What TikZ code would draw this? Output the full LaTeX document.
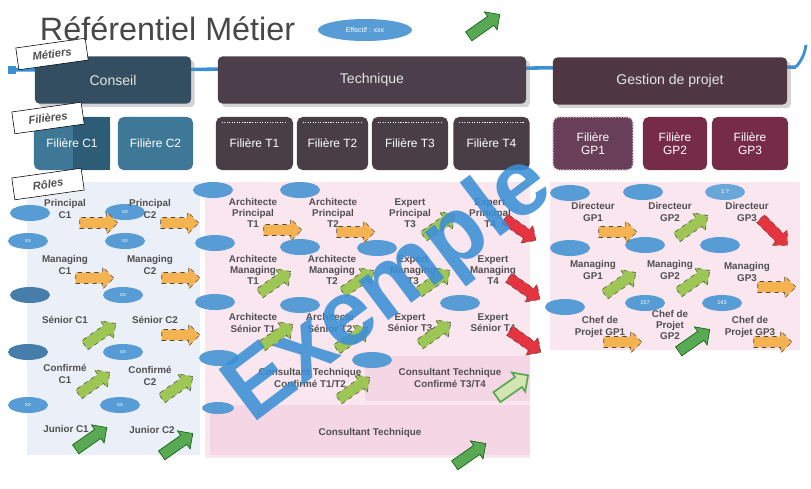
\documentclass[tikz,border=0pt]{standalone}
\usepackage{fontspec}
\setmainfont{Liberation Sans}
\usepackage{tikz}
\usetikzlibrary{positioning, shapes.geometric, shapes.arrows, shadows}

\definecolor{conseil}{RGB}{50,78,96}
\definecolor{techn}{RGB}{76,62,74}
\definecolor{gestion}{RGB}{80,56,66}
\definecolor{filc}{RGB}{62,120,150}
\definecolor{filcf}{RGB}{44,92,118}
\definecolor{filt}{RGB}{74,62,70}
\definecolor{filgp}{RGB}{118,44,70}
\definecolor{filgpa}{RGB}{104,62,88}
\definecolor{effbleu}{RGB}{88,156,214}
\definecolor{ligne}{RGB}{59,143,214}
\definecolor{orangeflec}{RGB}{245,178,80}
\definecolor{vertflec}{RGB}{158,198,84}
\definecolor{vertfonce}{RGB}{88,168,84}
\definecolor{rougeflec}{RGB}{228,52,64}
\definecolor{texte}{RGB}{80,80,80}
\definecolor{fondc}{RGB}{234,239,248}
\definecolor{fondt}{RGB}{249,230,238}
\definecolor{bande}{RGB}{245,214,228}

\begin{document}
\begin{tikzpicture}[x=0.025cm,y=-0.025cm,
  hdr/.style = {rounded corners=3pt, minimum height=1.175cm, text=white!80!gray, font=\fontsize{10}{12}\selectfont, drop shadow={opacity=0.35}},
  fil/.style = {rounded corners=4pt, minimum height=1.325cm, text=white, align=center, font=\fontsize{8.5}{9}\selectfont},
  filt/.style = {fil, fill=filt, path picture={\draw[white, densely dotted, line width=0.8pt] ([xshift=4pt,yshift=-4pt]path picture bounding box.north west) -- ([xshift=-4pt,yshift=-4pt]path picture bounding box.north east);}},
  tag/.style = {draw, fill=white, font=\fontsize{8}{9}\selectfont\bfseries\itshape, text=texte, minimum width=1.75cm, minimum height=0.55cm, rotate=8},
  role/.style = {align=center, font=\fontsize{7}{8}\selectfont\bfseries, text=texte, inner sep=1pt},
  eff/.style = {ellipse, fill=effbleu, minimum width=1cm, minimum height=0.4cm, inner sep=0pt, text=white, font=\fontsize{4}{4}\selectfont},
  fl/.style = {single arrow, draw=gray!60!black, dashed, line width=0.4pt, minimum height=0.95cm, inner sep=0.13cm, single arrow head extend=0.14cm},
  orng/.style = {fl, fill=orangeflec},
  grn/.style = {fl, fill=vertflec, rotate=35},
  dgrn/.style = {fl, fill=vertfonce, draw=green!35!black, solid, rotate=35},
  gout/.style = {fl, fill=vertflec!45, draw=vertfonce, solid, line width=1.2pt, rotate=35},
  rd/.style = {fl, fill=rougeflec, rotate=-35}]
\useasboundingbox (0,0) rectangle (811,488);

% fonds
\fill[fondc] (27,182) rectangle (200,455);
\fill[fondt] (205,182) rectangle (530,458);
\fill[bande] (365,356) rectangle (530,401);
\fill[bande] (210,405) rectangle (530,455);
\fill[fondt] (550,182) rectangle (800,350);

% ligne des metiers
\coordinate (lg) at (12,70);
\coordinate (ld) at (796,67);
\coordinate (lh) at (806,45);
\draw[ligne, line width=2.5pt] (lg) -- (ld);
\draw[ligne, line width=2pt] (ld) to[bend right=15] (lh);
\fill[ligne] ([xshift=-3pt,yshift=-3pt]lg) rectangle ([xshift=3pt,yshift=3pt]lg);

% metiers
\node[hdr, fill=conseil, minimum width=3.9cm] (cons) at (113,80) {Conseil};
\node[hdr, fill=techn, minimum width=7.7cm] (tech) at (372,80) {Technique};
\node[hdr, fill=gestion, minimum width=5.85cm] (gest) at (670,81) {Gestion de projet};

% filieres
\node[fil, fill=filc, minimum width=1.9cm] (fc1) at (72,143.5) {};
\fill[filcf] (73,117) rectangle (110,170);
\node[fil] at (fc1) {Filière C1};
\node[fil, fill=filc, minimum width=1.875cm] (fc2) at (155.5,143.5) {Filière C2};
\node[filt, minimum width=1.925cm] (ft1) at (254.5,143.5) {Filière T1};
\node[filt, minimum width=1.775cm] (ft2) at (332.5,143.5) {Filière T2};
\node[filt, minimum width=1.9cm] (ft3) at (410,143.5) {Filière T3};
\node[filt, minimum width=1.9cm] (ft4) at (491.5,143.5) {Filière T4};
\node[fil, fill=filgpa, draw=white!80!filgp, densely dotted, line width=1pt, minimum width=2cm] (fgp1) at (593,143.5) {Filière\\GP1};
\node[fil, fill=filgp, minimum width=1.6cm] (fgp2) at (675,143.5) {Filière\\GP2};
\node[fil, fill=filgp, minimum width=1.9cm] (fgp3) at (750,143.5) {Filière\\GP3};

% etiquettes
\node[tag] (tmet) at (52,54) {Métiers};
\node[tag] (tfil) at (48,118) {Filières};
\node[tag] (trol) at (48,184) {Rôles};

% effectifs
\node[eff] (e1) at (30,213) {};
\node[eff] (e2) at (125,212) {xx};
\node[eff] (e3) at (28,241) {xx};
\node[eff] (e4) at (125,241) {xx};
\node[eff, fill=effbleu!80!black] (e5) at (30,295) {};
\node[eff] (e6) at (123,295) {xx};
\node[eff, fill=effbleu!80!black] (e7) at (28,352) {};
\node[eff] (e8) at (123,352) {xx};
\node[eff] (e9) at (28,405) {xx};
\node[eff] (e10) at (120,405) {xx};
\node[eff] (e11) at (213,190) {};
\node[eff] (e12) at (300,190) {};
\node[eff] (e13) at (215,243) {};
\node[eff] (e14) at (300,247) {};
\node[eff] (e15) at (377,248) {};
\node[eff] (e16) at (215,302) {};
\node[eff] (e17) at (300,305) {};
\node[eff] (e18) at (460,303) {};
\node[eff] (e19) at (219,358) {};
\node[eff] (e20) at (372,360) {};
\node[eff, minimum width=0.8cm, minimum height=0.3cm] (e21) at (218,408) {};
\node[eff] (e22) at (570,193) {};
\node[eff] (e23) at (643,192) {};
\node[eff, fill=effbleu!90!white] (e24) at (725,192) {1:?};
\node[eff] (e25) at (570,248) {};
\node[eff] (e26) at (645,245) {};
\node[eff] (e27) at (720,245) {};
\node[eff] (e28) at (565,307) {};
\node[eff] (e29) at (645,303) {157};
\node[eff] (e30) at (722,303) {143};

% roles conseil
\node[role] (pc1) at (65,209) {Principal\\C1};
\node[role] (pc2) at (150,209) {Principal\\C2};
\node[role] (mc1) at (65,265) {Managing\\C1};
\node[role] (mc2) at (150,265) {Managing\\C2};
\node[role] (sc1) at (65,320) {Sénior C1};
\node[role] (sc2) at (155,320) {Sénior C2};
\node[role] (cc1) at (65,374) {Confirmé\\C1};
\node[role] (cc2) at (150,376) {Confirmé\\C2};
\node[role] (jc1) at (66,429) {Junior C1};
\node[role] (jc2) at (152,430) {Junior C2};

% roles technique
\node[role] (apt1) at (253,213) {Architecte\\Principal\\T1};
\node[role] (apt2) at (333,213) {Architecte\\Principal\\T2};
\node[role] (ept3) at (410,213) {Expert\\Principal\\T3};
\node[role] (ept4) at (490,213) {Expert\\Principal\\T4};
\node[role] (amt1) at (253,270) {Architecte\\Managing\\T1};
\node[role] (amt2) at (332,270) {Architecte\\Managing\\T2};
\node[role] (emt3) at (413,270) {Expert\\Managing\\T3};
\node[role] (emt4) at (493,270) {Expert\\Managing\\T4};
\node[role] (ast1) at (253,323) {Architecte\\Sénior T1};
\node[role] (ast2) at (330,323) {Architecte\\Sénior T2};
\node[role] (est3) at (410,323) {Expert\\Sénior T3};
\node[role] (est4) at (493,323) {Expert\\Sénior T4};
\node[role] (ct12) at (310,378) {Consultant Technique\\Confirmé T1/T2};
\node[role] (ct34) at (450,378) {Consultant Technique\\Confirmé T3/T4};
\node[role] (ct) at (370,433) {Consultant Technique};

% roles gestion de projet
\node[role] (dgp1) at (593,212) {Directeur\\GP1};
\node[role] (dgp2) at (670,212) {Directeur\\GP2};
\node[role] (dgp3) at (747,212) {Directeur\\GP3};
\node[role] (mgp1) at (593,270) {Managing\\GP1};
\node[role] (mgp2) at (670,270) {Managing\\GP2};
\node[role] (mgp3) at (747,272) {Managing\\GP3};
\node[role] (cgp1) at (600,327) {Chef de\\Projet GP1};
\node[role] (cgp2) at (670,325) {Chef de\\Projet\\GP2};
\node[role] (cgp3) at (750,327) {Chef de\\Projet GP3};

% tendances
\node[orng] (f1) at (96,223) {};
\node[orng] (f2) at (177,223) {};
\node[orng] (f3) at (92,278) {};
\node[orng] (f4) at (178,278) {};
\node[grn] (f5) at (98,336) {};
\node[orng] (f6) at (178,335) {};
\node[grn] (f7) at (92,385) {};
\node[grn] (f8) at (175,389) {};
\node[dgrn] (f9) at (89,440) {};
\node[dgrn] (f10) at (175,446) {};
\node[orng] (f11) at (280,230) {};
\node[orng] (f12) at (353,232) {};
\node[grn] (f13) at (437,227) {};
\node[rd] (f14) at (518,228) {};
\node[grn] (f15) at (273,284) {};
\node[grn] (f16) at (356,283) {};
\node[grn] (f17) at (432,283) {};
\node[rd] (f18) at (522,287) {};
\node[grn] (f19) at (275,337) {};
\node[grn] (f20) at (350,340) {};
\node[grn] (f21) at (433,335) {};
\node[rd] (f22) at (523,340) {};
\node[grn] (f23) at (352,390) {};
\node[gout] (f24) at (510,388) {};
\node[dgrn] (f25) at (468,456) {};
\node[orng] (f26) at (615,232) {};
\node[grn] (f27) at (690,228) {};
\node[rd, rotate=-10] (f28) at (772,230) {};
\node[grn] (f29) at (618,285) {};
\node[grn] (f30) at (692,283) {};
\node[orng] (f31) at (774,287) {};
\node[orng] (f32) at (620,342) {};
\node[dgrn] (f33) at (692,342) {};
\node[orng] (f34) at (770,342) {};

% filigrane
\node[rotate=37, text=ligne, opacity=0.88, font=\fontsize{66}{66}\selectfont\bfseries] (ex) at (390,290) {Exemple};

% titre
\node[anchor=base west, font=\fontsize{23}{26}\selectfont, text=black!72] (titre) at (35,40) {Référentiel Métier};
\node[eff, minimum width=2.35cm, minimum height=0.55cm, font=\fontsize{5}{5}\selectfont] (effectif) at (365,30) {Effectif : xxx};
\node[dgrn] (fleg) at (482,27) {};
\end{tikzpicture}
\end{document}
